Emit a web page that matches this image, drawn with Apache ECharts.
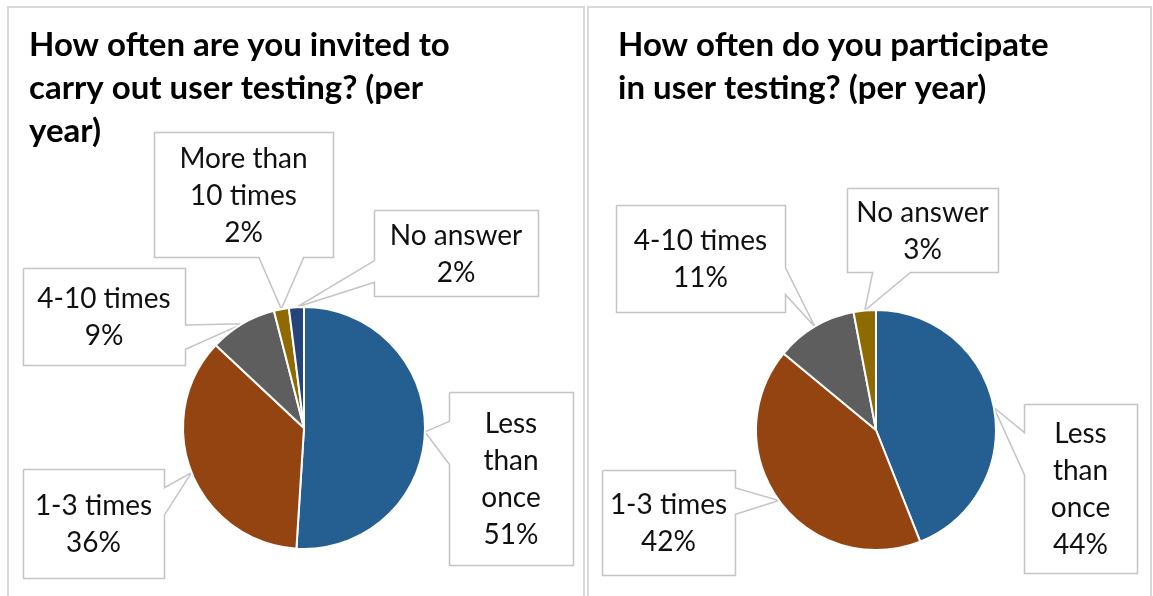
<!DOCTYPE html>
<html>
<head>
<meta charset="utf-8">
<script src="https://cdn.jsdelivr.net/npm/echarts@6/dist/echarts.min.js"></script>
<style>
  html, body { margin: 0; padding: 0; background: #fff; }
  #chart { width: 1153px; height: 596px; }
</style>
</head>
<body>
<div id="chart"></div>
<script>
// data
const invitedCategories = ['Less than once', '1-3 times', '4-10 times', 'More than 10 times', 'No answer'];
const invitedValues = [51, 36, 9, 2, 2];
const participateCategories = ['Less than once', '1-3 times', '4-10 times', 'No answer'];
const participateValues = [44, 42, 11, 3];

const invitedTitle = 'How often are you invited to\ncarry out user testing? (per\nyear)';
const participateTitle = 'How often do you participate\nin user testing? (per year)';

// colours (excel dark palette), taken by slice order in each pie
const palette = ['#255E91', '#944410', '#5E5E5E', '#8E6A00', '#25447A'];

// line breaks used inside callouts
const wrapped = {
    'Less than once': 'Less\nthan\nonce',
    'More than 10 times': 'More than\n10 times'
};

// callout boxes [x, y, w, h], by data index
const invitedBoxes = [
    [449, 392, 124, 173],
    [23, 469, 141, 109],
    [23, 268, 162, 97],
    [154, 132, 179, 125],
    [374, 210, 164, 86]
];
const participateBoxes = [
    [1024, 404, 113, 169],
    [602, 470, 133, 105],
    [616, 205, 169, 107],
    [847, 188, 151, 84]
];

// outline of an excel style callout: box with a wedge pointing at tip
function calloutPath(box, tip) {
    const L = box[0] + 0.5, T = box[1] + 0.5;
    const R = L + box[2], B = T + box[3];
    const cx = (L + R) / 2, cy = (T + B) / 2;
    let edge;
    if (tip[0] > R) edge = 'right';
    else if (tip[0] < L) edge = 'left';
    else if (tip[1] > B) edge = 'bottom';
    else edge = 'top';

    function span(a, b, toward, mid) {
        const len = b - a;
        return toward >= mid ? [a + len * 7 / 12, a + len * 10 / 12] : [a + len * 2 / 12, a + len * 5 / 12];
    }

    const pts = [[L, T]];
    if (edge === 'top') {
        const s = span(L, R, tip[0], cx);
        pts.push([s[0], T], tip, [s[1], T]);
    }
    pts.push([R, T]);
    if (edge === 'right') {
        const s = span(T, B, tip[1], cy);
        pts.push([R, s[0]], tip, [R, s[1]]);
    }
    pts.push([R, B]);
    if (edge === 'bottom') {
        const s = span(L, R, tip[0], cx);
        pts.push([s[1], B], tip, [s[0], B]);
    }
    pts.push([L, B]);
    if (edge === 'left') {
        const s = span(T, B, tip[1], cy);
        pts.push([L, s[1]], tip, [L, s[0]]);
    }
    pts.push([L, T]);
    return pts;
}

function makeLayout(boxes) {
    return function (params) {
        const box = boxes[params.dataIndex];
        const tip = params.labelLinePoints ? params.labelLinePoints[0] : [box[0], box[1]];
        return {
            x: box[0] + box[2] / 2,
            y: box[1] + box[3] / 2 + 1,
            align: 'center',
            verticalAlign: 'middle',
            labelLinePoints: calloutPath(box, tip)
        };
    };
}

function pieSeries(names, values, center, radius, boxes) {
    return {
        type: 'pie',
        center: center,
        radius: radius,
        startAngle: 90,
        clockwise: true,
        avoidLabelOverlap: false,
        percentPrecision: 0,
        itemStyle: { borderColor: '#fff', borderWidth: 2 },
        label: {
            show: true,
            position: 'outside',
            formatter: function (p) {
                return (wrapped[p.name] || p.name) + '\n' + Math.round(p.percent) + '%';
            },
            fontFamily: 'Lato',
            fontSize: 28,
            lineHeight: 37,
            color: '#111'
        },
        labelLine: {
            show: true,
            lineStyle: { color: '#c4c4c4', width: 1.5 }
        },
        labelLayout: makeLayout(boxes),
        emphasis: { disabled: true },
        data: names.map((n, i) => ({
            name: n,
            value: values[i],
            itemStyle: { color: palette[i] }
        }))
    };
}

const chart = echarts.init(document.getElementById('chart'));

const titleStyle = {
    fontFamily: 'Lato',
    fontWeight: 'bold',
    fontSize: 33,
    lineHeight: 43,
    color: '#000'
};

chart.setOption({
    animation: false,
    backgroundColor: '#fff',
    title: [
        { text: invitedTitle, left: 29, top: 24, padding: 0, textStyle: titleStyle },
        { text: participateTitle, left: 618, top: 24, padding: 0, textStyle: titleStyle }
    ],
    graphic: [
        {
            type: 'rect',
            shape: { x: 8, y: 7, width: 576, height: 600 },
            style: { fill: 'none', stroke: '#d9d9d9', lineWidth: 2 },
            silent: true
        },
        {
            type: 'rect',
            shape: { x: 588, y: 7, width: 563, height: 600 },
            style: { fill: 'none', stroke: '#d9d9d9', lineWidth: 2 },
            silent: true
        }
    ],
    series: [
        pieSeries(invitedCategories, invitedValues, [304, 428], 121, invitedBoxes),
        pieSeries(participateCategories, participateValues, [876, 430], 120, participateBoxes)
    ]
});
</script>
</body>
</html>
